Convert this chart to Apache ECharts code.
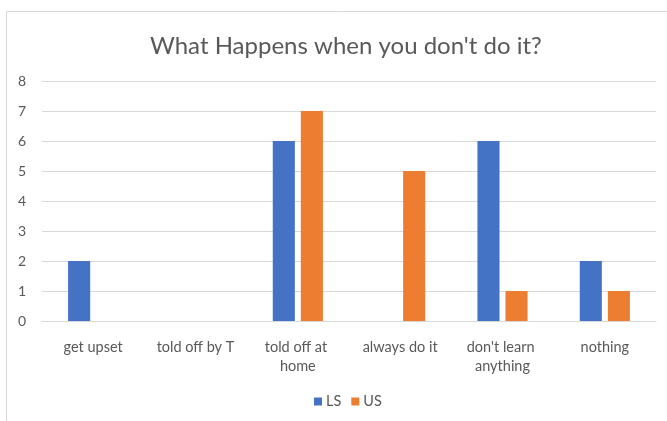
<!DOCTYPE html>
<html><head><meta charset="utf-8">
<script src="https://cdn.jsdelivr.net/npm/echarts@6/dist/echarts.min.js"></script>
<style>html,body{margin:0;padding:0;background:#fff}#c{width:667px;height:421px}</style>
</head><body><div id="c"></div>
<script>
const categories = ["get upset", "told off by T", "told off at home", "always do it", "don't learn anything", "nothing"];
const lsValues = [2, 0, 6, 0, 6, 2];
const usValues = [0, 0, 7, 5, 1, 1];
const yTicks = [0, 1, 2, 3, 4, 5, 6, 7, 8];
const FONT = "Lato";
const chart = echarts.init(document.getElementById('c'), null, {renderer: 'canvas'});
chart.setOption({
  animation: false,
  backgroundColor: '#fff',
  textStyle: {fontFamily: FONT},
  graphic: [{type: 'rect', shape: {x: 6.5, y: 11.5, width: 700, height: 500}, style: {fill: 'none', stroke: '#d9d9d9', lineWidth: 1}, silent: true}],
  title: {text: "What Happens when you don't do it?", left: 145, top: 29,
    textStyle: {fontFamily: FONT, fontSize: 24, fontWeight: 'normal', color: '#595959'}},
  legend: {data: ['LS', 'US'], top: 389, left: 309, itemWidth: 8, itemHeight: 8, itemGap: 10,
    icon: 'rect', textStyle: {fontFamily: FONT, fontSize: 14.5, color: '#595959', padding: [0, 0, 0, -1]}},
  grid: {left: 42, right: 11, top: 81, bottom: 100, containLabel: false},
  xAxis: {type: 'category', data: categories,
    axisLine: {lineStyle: {color: '#d9d9d9'}}, axisTick: {show: false},
    axisLabel: {fontFamily: FONT, fontSize: 14.5, color: '#595959', margin: 17, width: 92, overflow: 'break', lineHeight: 19, interval: 0}},
  yAxis: {type: 'value', min: yTicks[0], max: yTicks[yTicks.length - 1], interval: 1,
    axisLine: {show: false}, axisTick: {show: false},
    splitLine: {lineStyle: {color: '#d9d9d9'}},
    axisLabel: {fontFamily: FONT, fontSize: 14, color: '#595959', margin: 16}},
  series: [
    {name: 'LS', type: 'bar', data: lsValues, itemStyle: {color: '#4472C4'}, barGap: '27%', barCategoryGap: '51%'},
    {name: 'US', type: 'bar', data: usValues, itemStyle: {color: '#ED7D31'}, barGap: '27%', barCategoryGap: '51%'}
  ]
});
</script></body></html>
